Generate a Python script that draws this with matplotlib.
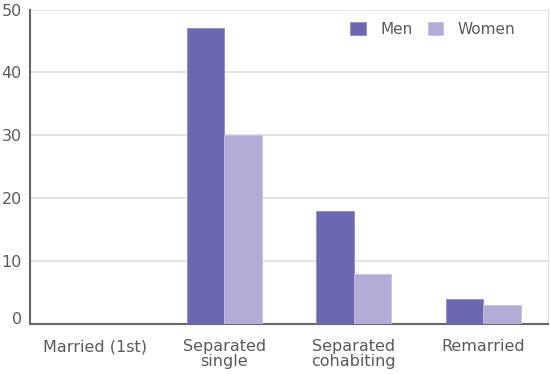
import numpy as np
import matplotlib.pyplot as plt
from matplotlib.transforms import ScaledTranslation

categories = ["Married (1st)", "Separated\nsingle", "Separated\ncohabiting", "Remarried"]
men = [0, 47, 18, 4]
women = [0, 30, 8, 3]

men_color = "#6b67b0"
women_color = "#b2acd6"
text_color = "#595959"

plt.rcParams['font.family'] = ['DejaVu Sans']

fig = plt.figure(figsize=(5.5, 3.74), dpi=100)
ax = fig.add_axes([30 / 550, 1 - 324 / 374, 518 / 550, (324 - 9.5) / 374])

x = np.arange(len(categories))
w = 0.29
ax.bar(x - w / 2, men, width=w, color=men_color, edgecolor="#8f8bc6", linewidth=0.6, label="Men", zorder=3)
ax.bar(x + w / 2, women, width=w, color=women_color, edgecolor="#c4bfe0", linewidth=0.6, label="Women", zorder=3)

ax.set_xlim(-0.5, len(categories) - 0.5)
ax.set_ylim(0, 50)
ax.set_yticks([0, 10, 20, 30, 40, 50])
ax.set_xticks(x)
ax.set_xticklabels(categories, linespacing=0.95)
ax.yaxis.grid(True, color="#dddddd", linewidth=1.2, zorder=0)
ax.tick_params(axis="both", length=0, labelsize=11.5, colors=text_color)
ax.tick_params(axis="x", pad=11)
ax.tick_params(axis="y", pad=6)

# the zero label sits a little above the axis line in the original
zero = ax.get_yticklabels()[0]
zero.set_transform(zero.get_transform() + ScaledTranslation(0, 6 / 100, fig.dpi_scale_trans))

ax.spines["top"].set_visible(False)
ax.spines["right"].set_color("#dddddd")
ax.spines["left"].set_color("#666666")
ax.spines["bottom"].set_color("#666666")
ax.spines["left"].set_linewidth(1.5)
ax.spines["bottom"].set_linewidth(1.5)

leg = ax.legend(loc="upper right", bbox_to_anchor=(0.963, 1.005), ncol=2, frameon=False,
                fontsize=11, handlelength=1.0, handleheight=1.0, columnspacing=1.0, handletextpad=0.95)
for t in leg.get_texts():
    t.set_color(text_color)

fig.savefig("out.png", dpi=100)
